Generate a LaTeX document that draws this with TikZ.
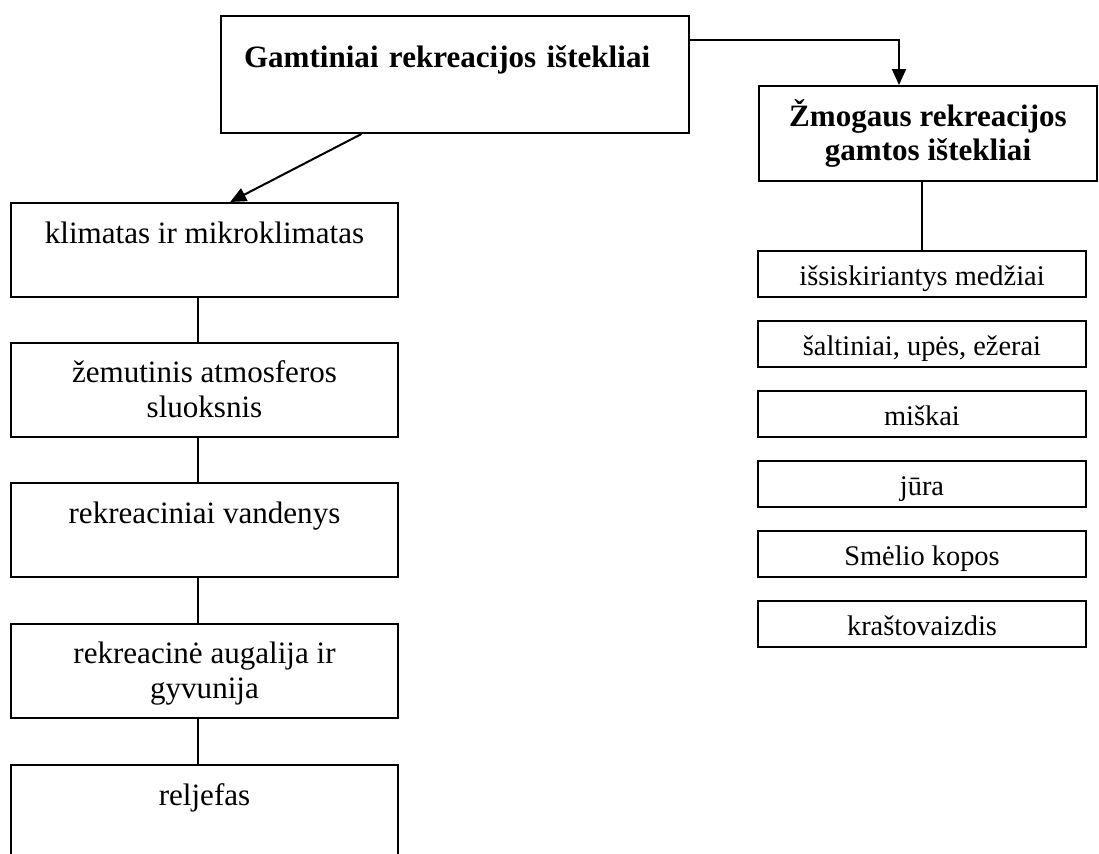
\documentclass[tikz,border=0pt]{standalone}
\usepackage{fontspec}
\setmainfont{Liberation Serif}
\usetikzlibrary{arrows.meta,calc}
\newcommand{\twolines}[2]{\vtop{\halign{\hfil##\hfil\cr #1\cr #2\cr}}}

\tikzset{
  box/.style={draw,line width=1.5pt,rectangle,inner sep=0pt},
  bigfont/.style={font=\fontsize{23.3}{26.3}\selectfont},
  headfont/.style={font=\fontsize{23.3}{25.5}\selectfont\bfseries},
  leftbox/.style={box,bigfont,minimum width=290.25pt,minimum height=70.5pt,text height=30pt,text depth=40.5pt},
  itembox/.style={box,font=\fontsize{21.3}{24}\selectfont,minimum width=246pt,minimum height=34.5pt,text height=25.5pt,text depth=9pt},
  link/.style={line width=1.5pt},
  arr/.style={link,-{Triangle[length=12pt,width=10.5pt]}}
}

\begin{document}
\begin{tikzpicture}[x=0.75pt,y=0.75pt,yscale=-1,xscale=1]
\clip (0,0) rectangle (1099,853);

% Top boxes
\node[box,headfont,minimum width=351pt,minimum height=87.75pt,text width=316.5pt,align=left,inner xsep=17.25pt,text height=38.25pt,text depth=49.5pt] (gamt) at (455,74.5) {Gamtiniai rekreacijos ištekliai};
\node[box,headfont,minimum width=253.5pt,minimum height=71.25pt,text height=30pt,text depth=41.25pt] (zmog) at (928,133.5) {\twolines{Žmogaus rekreacijos}{gamtos ištekliai}};

% Left column
\node[leftbox] (klim) at (204.5,250) {klimatas ir mikroklimatas};
\node[leftbox] (atmo) at (204.5,389.5) {\twolines{žemutinis atmosferos}{sluoksnis}};
\node[leftbox] (vand) at (204.5,530) {rekreaciniai vandenys};
\node[leftbox] (augal) at (204.5,670.5) {\twolines{rekreacinė augalija ir}{gyvunija}};
\node[leftbox] (relj) at (204.5,812) {reljefas};

% Right column
\node[itembox] (med) at (922,274) {išsiskiriantys medžiai};
\node[itembox] (salt) at (922,344) {šaltiniai, upės, ežerai};
\node[itembox] (misk) at (922,414) {miškai};
\node[itembox] (jura) at (922,484) {jūra};
\node[itembox] (kop) at (922,554) {Smėlio kopos};
\node[itembox] (kras) at (922,624) {kraštovaizdis};

% Arrows
\coordinate (elbow) at (899,40);
\draw[arr] (gamt.east |- elbow) -- (elbow) -- (elbow |- zmog.north);
\draw[arr] ($(gamt.south west)!0.301!(gamt.south east)$) -- ($(klim.north west)!0.566!(klim.north east)$);

% Straight Lines
\coordinate (spine) at (198,0);
\draw[link] (klim.south -| spine) -- (atmo.north -| spine);
\draw[link] (atmo.south -| spine) -- (vand.north -| spine);
\draw[link] (vand.south -| spine) -- (augal.north -| spine);
\draw[link] (augal.south -| spine) -- (relj.north -| spine);
\draw[link] (zmog.south -| med) -- (med.north);

\end{tikzpicture}
\end{document}
